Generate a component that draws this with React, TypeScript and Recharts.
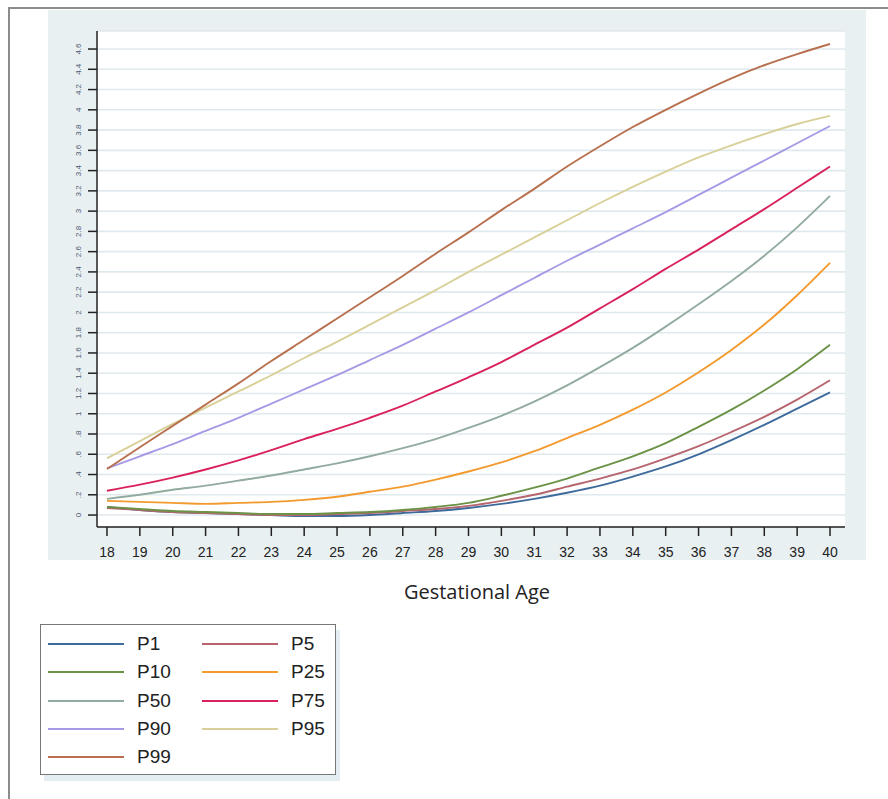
import React from 'react';
import { LineChart, Line, XAxis, YAxis, CartesianGrid } from 'recharts';

const ages = [18, 19, 20, 21, 22, 23, 24, 25, 26, 27, 28, 29, 30, 31, 32, 33, 34, 35, 36, 37, 38, 39, 40];

const p1 = [0.08, 0.05, 0.03, 0.02, 0.01, 0.0, -0.01, -0.01, 0.0, 0.02, 0.04, 0.07, 0.11, 0.16, 0.22, 0.29, 0.38, 0.48, 0.6, 0.74, 0.89, 1.05, 1.21];
const p5 = [0.07, 0.05, 0.03, 0.02, 0.01, 0.0, 0.0, 0.01, 0.02, 0.04, 0.06, 0.09, 0.14, 0.2, 0.28, 0.36, 0.45, 0.56, 0.68, 0.82, 0.97, 1.14, 1.33];
const p10 = [0.08, 0.06, 0.04, 0.03, 0.02, 0.01, 0.01, 0.02, 0.03, 0.05, 0.08, 0.12, 0.19, 0.27, 0.36, 0.47, 0.58, 0.71, 0.87, 1.04, 1.23, 1.44, 1.68];
const p25 = [0.14, 0.13, 0.12, 0.11, 0.12, 0.13, 0.15, 0.18, 0.23, 0.28, 0.35, 0.43, 0.52, 0.63, 0.76, 0.89, 1.04, 1.21, 1.41, 1.63, 1.88, 2.17, 2.49];
const p50 = [0.16, 0.2, 0.25, 0.29, 0.34, 0.39, 0.45, 0.51, 0.58, 0.66, 0.75, 0.86, 0.98, 1.12, 1.28, 1.46, 1.65, 1.86, 2.08, 2.31, 2.56, 2.84, 3.15];
const p75 = [0.24, 0.3, 0.37, 0.45, 0.54, 0.64, 0.75, 0.85, 0.96, 1.08, 1.22, 1.36, 1.51, 1.68, 1.85, 2.04, 2.23, 2.43, 2.62, 2.82, 3.02, 3.23, 3.44];
const p90 = [0.46, 0.58, 0.7, 0.83, 0.96, 1.1, 1.24, 1.38, 1.53, 1.68, 1.84, 2.0, 2.17, 2.34, 2.51, 2.67, 2.83, 2.99, 3.16, 3.33, 3.5, 3.67, 3.84];
const p95 = [0.56, 0.73, 0.9, 1.06, 1.22, 1.38, 1.55, 1.71, 1.88, 2.05, 2.22, 2.4, 2.57, 2.74, 2.91, 3.08, 3.24, 3.39, 3.53, 3.65, 3.76, 3.86, 3.94];
const p99 = [0.455, 0.67, 0.88, 1.09, 1.3, 1.52, 1.73, 1.94, 2.15, 2.36, 2.58, 2.79, 3.01, 3.22, 3.44, 3.64, 3.83, 4.0, 4.16, 4.31, 4.44, 4.55, 4.65];

const seriesNames = ['P1', 'P5', 'P10', 'P25', 'P50', 'P75', 'P90', 'P95', 'P99'];
const seriesColors = ['#3e6b9c', '#b6646d', '#6b9247', '#f39a2e', '#92ab9f', '#d9225b', '#a69ae6', '#d8d098', '#b8704f'];
const seriesValues = [p1, p5, p10, p25, p50, p75, p90, p95, p99];

const yTicks = [0, 0.2, 0.4, 0.6, 0.8, 1, 1.2, 1.4, 1.6, 1.8, 2, 2.2, 2.4, 2.6, 2.8, 3, 3.2, 3.4, 3.6, 3.8, 4, 4.2, 4.4, 4.6];
const yTickLabels = ['0', '.2', '.4', '.6', '.8', '1', '1.2', '1.4', '1.6', '1.8', '2', '2.2', '2.4', '2.6', '2.8', '3', '3.2', '3.4', '3.6', '3.8', '4', '4.2', '4.4', '4.6'];

const xTitle = 'Gestational Age';

const data = ages.map((age, i) => {
  const row: any = { age };
  seriesNames.forEach((n, k) => {
    row[n] = seriesValues[k][i];
  });
  return row;
});

const YTick = (props: any) => {
  const { x, y, payload } = props;
  const lx = x - 5;
  const idx = yTicks.findIndex((t) => Math.abs(t - payload.value) < 1e-6);
  const label = idx >= 0 ? yTickLabels[idx] : String(payload.value);
  return (
    <text
      x={lx}
      y={y}
      transform={`rotate(-90 ${lx} ${y})`}
      textAnchor="middle"
      fontSize={8}
      fill="#4a5a74"
      fontFamily="'Liberation Sans', Arial, sans-serif"
    >
      {label}
    </text>
  );
};

const legendRows = [
  [0, 1],
  [2, 3],
  [4, 5],
  [6, 7],
  [8],
];

export default function App() {
  return (
    <div style={{ position: 'absolute', left: 0, top: 0, width: 888, height: 799, background: '#fff', overflow: 'hidden' }}>
      <div
        style={{
          position: 'absolute',
          left: 8,
          top: 7,
          width: 890,
          height: 800,
          borderTop: '2px solid #8c8c8c',
          borderLeft: '2px solid #8c8c8c',
        }}
      />
      <div style={{ position: 'absolute', left: 48, top: 10, width: 818, height: 550, background: '#e9f0f2' }} />
      <div style={{ position: 'absolute', left: 48, top: 10 }}>
        <LineChart width={818} height={550} data={data} margin={{ top: 21, right: 21, left: 0, bottom: 0 }}>
          <CartesianGrid vertical={false} horizontal={true} fill="#ffffff" stroke="#e0e9ed" strokeWidth={1.6} />
          <XAxis
            type="number"
            dataKey="age"
            domain={[17.696, 40.456]}
            ticks={ages}
            interval={0}
            allowDataOverflow
            height={33}
            tickSize={9}
            tickMargin={11}
            axisLine={{ stroke: '#222', strokeWidth: 1.5 }}
            tickLine={{ stroke: '#222', strokeWidth: 1.5 }}
            tick={{ fill: '#222', fontSize: 14, fontFamily: "'Liberation Sans', Arial, sans-serif" }}
          />
          <YAxis
            type="number"
            domain={[-0.118, 4.778]}
            ticks={yTicks}
            interval={0}
            allowDataOverflow
            width={49}
            tickSize={9}
            axisLine={{ stroke: '#222', strokeWidth: 1.5 }}
            tickLine={{ stroke: '#222', strokeWidth: 1.5 }}
            tick={<YTick />}
          />
          {seriesNames.map((n, k) => (
            <Line
              key={n}
              type="monotone"
              dataKey={n}
              stroke={seriesColors[k]}
              strokeWidth={1.9}
              dot={false}
              activeDot={false}
              isAnimationActive={false}
            />
          ))}
        </LineChart>
      </div>
      <div
        style={{
          position: 'absolute',
          left: 377,
          top: 580,
          width: 200,
          textAlign: 'center',
          fontFamily: "'Open Sans', sans-serif",
          fontSize: 20,
          lineHeight: '24px',
          color: '#222',
        }}
      >
        {xTitle}
      </div>
      <div
        style={{
          position: 'absolute',
          left: 40,
          top: 624,
          width: 294,
          height: 149,
          background: '#fff',
          border: '1.5px solid #777',
          boxShadow: '4px 6px 0 #e4edf1',
        }}
      >
        {legendRows.map((row, r) =>
          row.map((k, c) => (
            <div
              key={seriesNames[k]}
              style={{
                position: 'absolute',
                left: c === 0 ? 7 : 161,
                top: 5 + r * 28.3,
                height: 28,
                display: 'flex',
                alignItems: 'center',
              }}
            >
              <div style={{ width: 76, height: 2, background: seriesColors[k] }} />
              <span
                style={{
                  marginLeft: 13,
                  fontFamily: "'Liberation Sans', Arial, sans-serif",
                  fontSize: 19,
                  color: '#222',
                }}
              >
                {seriesNames[k]}
              </span>
            </div>
          ))
        )}
      </div>
    </div>
  );
}
